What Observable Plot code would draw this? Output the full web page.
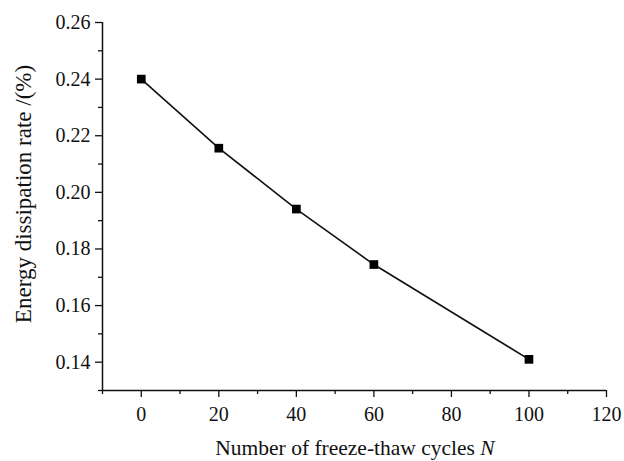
<!DOCTYPE html>
<html>
<head>
<meta charset="utf-8">
<script src="https://cdn.jsdelivr.net/npm/d3@7"></script>
<script src="https://cdn.jsdelivr.net/npm/@observablehq/plot@0.6"></script>
<style>
  html, body { margin: 0; padding: 0; background: #fff; }
  svg { display: block; }
</style>
</head>
<body>
<div id="chart"></div>
<script>
// Data
const cycles = [0, 20, 40, 60, 100];
const dissipation = [0.240, 0.2156, 0.1941, 0.1745, 0.1410];
const xTicks = [0, 20, 40, 60, 80, 100, 120];
const yTicks = [0.14, 0.16, 0.18, 0.20, 0.22, 0.24, 0.26];
const xMinorTicks = [-10, 10, 30, 50, 70, 90, 110];
const yMinorTicks = [0.13, 0.15, 0.17, 0.19, 0.21, 0.23, 0.25];
const xTitle = "Number of freeze-thaw cycles ";
const xTitleItalic = "N";
const yTitle = "Energy dissipation rate /(%)";

const data = cycles.map((c, i) => ({x: c, y: dissipation[i]}));
const font = "'Liberation Serif', 'Times New Roman', serif";

const plot = Plot.plot({
  width: 624,
  height: 461,
  marginLeft: 102,
  marginRight: 18,
  marginTop: 22,
  marginBottom: 71,
  style: {fontFamily: font, fontSize: "20px", color: "#111", background: "#fff"},
  x: {domain: [-10, 120]},
  y: {domain: [0.13, 0.26]},
  marks: [
    Plot.axisX({ticks: xTicks, tickSize: 7, tickPadding: 9, tickFormat: d => String(d), label: null,
      stroke: "#111", strokeWidth: 1.3, fill: "#111"}),
    Plot.axisX({ticks: xMinorTicks, tickSize: 4, text: null, label: null, stroke: "#111", strokeWidth: 1.3}),
    Plot.axisY({ticks: yTicks, tickSize: 7, tickPadding: 5, tickFormat: d3.format(".2f"), label: null,
      stroke: "#111", strokeWidth: 1.3, fill: "#111"}),
    Plot.axisY({ticks: yMinorTicks, tickSize: 4, text: null, label: null, stroke: "#111", strokeWidth: 1.3}),
    Plot.ruleY([0.13], {stroke: "#111", strokeWidth: 1.5}),
    Plot.ruleX([-10], {stroke: "#111", strokeWidth: 1.5}),
    Plot.line(data, {x: "x", y: "y", stroke: "#111", strokeWidth: 1.6}),
    Plot.dot(data, {x: "x", y: "y", symbol: "square", r: 4.9, fill: "#000", stroke: "none"})
  ]
});

document.getElementById("chart").appendChild(plot);

const svg = d3.select(plot);
svg.selectAll("text")
  .style("font-family", font)
  .style("font-size", "20px");

// Axis titles (real text, positioned from the plot's scales)
const sx = plot.scale("x");
const sy = plot.scale("y");
const xMid = (sx.range[0] + sx.range[1]) / 2;
const yMid = (sy.range[0] + sy.range[1]) / 2;

const xt = svg.append("text")
  .attr("x", xMid + 1)
  .attr("y", 455)
  .attr("text-anchor", "middle")
  .style("font-family", font)
  .style("font-size", "21.5px")
  .attr("fill", "#111");
xt.append("tspan").text(xTitle);
xt.append("tspan").style("font-style", "italic").text(xTitleItalic);

svg.append("text")
  .attr("transform", `translate(31,${yMid - 12}) rotate(-90)`)
  .attr("text-anchor", "middle")
  .style("font-family", font)
  .style("font-size", "23px")
  .attr("fill", "#111")
  .text(yTitle);

// make sure the serif font is resolved and laid out before the snapshot
document.fonts.check("20px 'Liberation Serif'");
svg.selectAll("text").each(function() { this.getBBox(); });
</script>
</body>
</html>
